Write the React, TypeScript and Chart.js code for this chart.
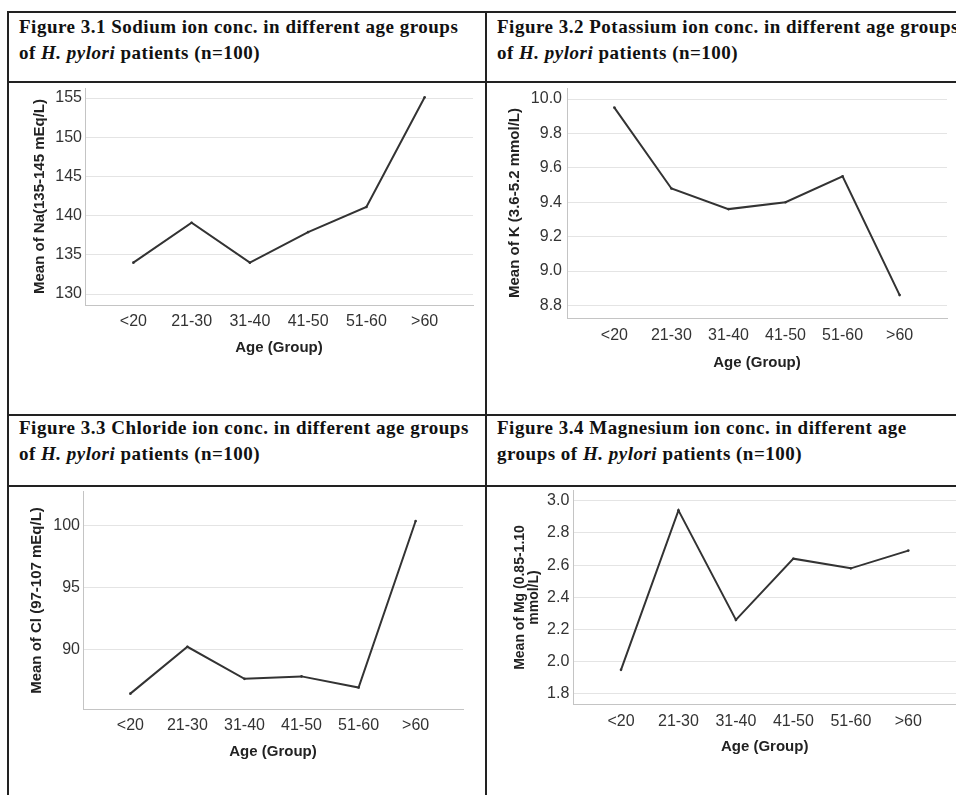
import React, { useEffect, useRef } from "react";
import { Chart, registerables } from "chart.js";

Chart.register(...registerables);

// ---- Data ----
const ageGroups = ["<20", "21-30", "31-40", "41-50", "51-60", ">60"];
const sodiumMeans = [134.0, 139.1, 134.0, 137.9, 141.1, 155.1];
const potassiumMeans = [9.95, 9.48, 9.36, 9.4, 9.55, 8.86];
const chlorideMeans = [86.4, 90.2, 87.6, 87.8, 86.9, 100.4];
const magnesiumMeans = [1.95, 2.94, 2.26, 2.64, 2.58, 2.69];
const sodiumTicks = [130, 135, 140, 145, 150, 155];
const potassiumTicks = [8.8, 9.0, 9.2, 9.4, 9.6, 9.8, 10.0];
const chlorideTicks = [90, 95, 100];
const magnesiumTicks = [1.8, 2.0, 2.2, 2.4, 2.6, 2.8, 3.0];

const SANS = "'Liberation Sans', Arial, sans-serif";
const SERIF = "'Liberation Serif', 'Times New Roman', serif";

type Rect = { left: number; top: number; right: number; bottom: number };
type PanelProps = {
  box: Rect;
  area: Rect;
  values: number[];
  ticks: number[];
  yMin: number;
  yMax: number;
  decimals: number;
  yTitle: string | string[];
  yTitleSize: number;
  yTitleLH: number;
  yTitleCenter: number;
  yTickPad: number;
  xTickPad: number;
  xTitleCenter: number;
};

function Panel(p: PanelProps) {
  const ref = useRef<HTMLCanvasElement | null>(null);
  useEffect(() => {
    if (!ref.current) return;
    const { box, area } = p;
    const yTitleLine = p.yTitleSize * p.yTitleLH;
    const xTitleLine = 15 * 1.2;
    const chart = new Chart(ref.current, {
      type: "line",
      data: {
        datasets: [
          {
            data: p.values.map((v, i) => ({ x: i, y: v })),
            borderColor: "#333333",
            borderWidth: 2,
            pointRadius: 1.3,
            pointBackgroundColor: "#333333",
            pointBorderWidth: 0,
            tension: 0,
            borderJoinStyle: "miter",
          },
        ],
      },
      options: {
        responsive: false,
        maintainAspectRatio: false,
        animation: false,
        layout: {
          padding: {
            top: area.top - box.top,
            right: box.right - area.right,
            left: 0,
            bottom: 0,
          },
        },
        plugins: { legend: { display: false }, tooltip: { enabled: false } },
        scales: {
          x: {
            type: "linear",
            min: -0.83,
            max: 5.83,
            afterBuildTicks: (s: any) => {
              s.ticks = ageGroups.map((_, i) => ({ value: i }));
            },
            afterFit: (s: any) => {
              s.height = box.bottom - area.bottom;
            },
            grid: { display: false },
            border: { display: true, color: "#c4c4c4", width: 1 },
            ticks: {
              autoSkip: false,
              maxRotation: 0,
              minRotation: 0,
              padding: p.xTickPad,
              color: "#333333",
              font: { family: SANS, size: 16 },
              callback: (v: any) => ageGroups[Math.round(Number(v))] ?? "",
            },
            title: {
              display: true,
              text: "Age (Group)",
              color: "#222",
              font: { family: SANS, size: 15, weight: "bold" },
              padding: { top: 0, bottom: box.bottom - p.xTitleCenter - xTitleLine / 2 },
            },
          },
          y: {
            type: "linear",
            min: p.yMin,
            max: p.yMax,
            afterBuildTicks: (s: any) => {
              s.ticks = p.ticks.map((v) => ({ value: v }));
            },
            afterFit: (s: any) => {
              s.width = area.left - box.left;
            },
            grid: { color: "#e4e4e4", lineWidth: 1, drawTicks: false },
            border: { display: true, color: "#c4c4c4", width: 1 },
            ticks: {
              padding: p.yTickPad,
              color: "#333333",
              font: { family: SANS, size: 16 },
              callback: (v: any) => Number(v).toFixed(p.decimals),
            },
            title: {
              display: true,
              text: p.yTitle,
              color: "#222",
              font: { family: SANS, size: p.yTitleSize, weight: "bold", lineHeight: p.yTitleLH },
              padding: { top: p.yTitleCenter - box.left - yTitleLine / 2, bottom: 0 },
            },
          },
        },
      },
    } as any);
    return () => chart.destroy();
  }, []);
  const { box } = p;
  return (
    <canvas
      ref={ref}
      width={box.right - box.left}
      height={box.bottom - box.top}
      style={{
        position: "absolute",
        left: box.left,
        top: box.top,
        width: box.right - box.left,
        height: box.bottom - box.top,
      }}
    />
  );
}

const lineStyle = (left: number, top: number, width: number, height: number): React.CSSProperties => ({
  position: "absolute",
  left,
  top,
  width,
  height,
  background: "#222",
});

const titleStyle = (left: number, top: number): React.CSSProperties => ({
  position: "absolute",
  left,
  top,
  fontFamily: SERIF,
  fontWeight: "bold",
  fontSize: 19,
  letterSpacing: "0.5px",
  lineHeight: "26px",
  color: "#111",
  whiteSpace: "nowrap",
});

export default function App() {
  return (
    <div
      style={{
        position: "absolute",
        left: 0,
        top: 0,
        width: 956,
        height: 795,
        overflow: "hidden",
        background: "#fff",
      }}
    >
      {/* table borders */}
      <div style={lineStyle(7, 11, 960, 2)} />
      <div style={lineStyle(7, 81, 960, 2)} />
      <div style={lineStyle(7, 414, 960, 2)} />
      <div style={lineStyle(7, 485, 960, 2)} />
      <div style={lineStyle(7, 11, 2, 800)} />
      <div style={lineStyle(485, 11, 2, 800)} />

      {/* titles */}
      <div style={titleStyle(19, 14)}>
        Figure 3.1 Sodium ion conc. in different age groups
        <br />
        of <i>H. pylori</i> patients (n=100)
      </div>
      <div style={titleStyle(497, 14)}>
        Figure 3.2 Potassium ion conc. in different age groups
        <br />
        of <i>H. pylori</i> patients (n=100)
      </div>
      <div style={titleStyle(19, 415)}>
        Figure 3.3 Chloride ion conc. in different age groups
        <br />
        of <i>H. pylori</i> patients (n=100)
      </div>
      <div style={titleStyle(497, 415)}>
        Figure 3.4 Magnesium ion conc. in different age
        <br />
        groups of <i>H. pylori</i> patients (n=100)
      </div>

      <Panel
        box={{ left: 10, top: 70, right: 480, bottom: 380 }}
        area={{ left: 85, top: 88, right: 473, bottom: 305 }}
        values={sodiumMeans}
        ticks={sodiumTicks}
        yMin={128.6}
        yMax={156.28}
        decimals={0}
        yTitle="Mean of Na(135-145 mEq/L)"
        yTitleSize={15}
        yTitleLH={1.2}
        yTitleCenter={40}
        yTickPad={3}
        xTickPad={-1}
        xTitleCenter={348}
      />
      <Panel
        box={{ left: 490, top: 70, right: 956, bottom: 392 }}
        area={{ left: 567, top: 88, right: 947, bottom: 318 }}
        values={potassiumMeans}
        ticks={potassiumTicks}
        yMin={8.727}
        yMax={10.064}
        decimals={1}
        yTitle="Mean of K (3.6-5.2 mmol/L)"
        yTitleSize={15}
        yTitleLH={1.2}
        yTitleCenter={515}
        yTickPad={5}
        xTickPad={0}
        xTitleCenter={362.7}
      />
      <Panel
        box={{ left: 10, top: 474, right: 480, bottom: 790 }}
        area={{ left: 83, top: 491.7, right: 463, bottom: 709.3 }}
        values={chlorideMeans}
        ticks={chlorideTicks}
        yMin={85.13}
        yMax={102.78}
        decimals={0}
        yTitle="Mean of Cl (97-107 mEq/L)"
        yTitleSize={15}
        yTitleLH={1.2}
        yTitleCenter={36.7}
        yTickPad={3}
        xTickPad={-1}
        xTitleCenter={751.7}
      />
      <Panel
        box={{ left: 490, top: 473, right: 960, bottom: 790 }}
        area={{ left: 573.3, top: 490.7, right: 959, bottom: 704.3 }}
        values={magnesiumMeans}
        ticks={magnesiumTicks}
        yMin={1.736}
        yMax={3.062}
        decimals={1}
        yTitle={["Mean of Mg (0.85-1.10", "mmol/L)"]}
        yTitleSize={14}
        yTitleLH={1.0}
        yTitleCenter={520}
        yTickPad={4}
        xTickPad={0}
        xTitleCenter={746.7}
      />
    </div>
  );
}
